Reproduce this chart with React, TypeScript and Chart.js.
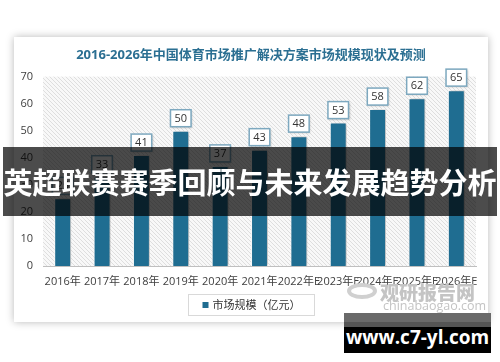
import React, { useEffect, useRef } from "react";
import { Chart, registerables } from "chart.js";

Chart.register(...registerables);

const categories = ["2016年", "2017年", "2018年", "2019年", "2020年", "2021年", "2022年E", "2023年E", "2024年E", "2025年E", "2026年E"];
const marketSize = [25, 33, 41, 50, 37, 43, 48, 53, 58, 62, 65];
const seriesName = "市场规模（亿元）";
const chartTitle = "2016-2026年中国体育市场推广解决方案市场规模现状及预测";
const yTicksMax = 70;
const yTicksStep = 10;
const bannerText = "英超联赛赛季回顾与未来发展趋势分析";
const siteText = "www.c7-yl.com";
const watermarkName = "观研报告网";
const watermarkUrl = "chinabaogao.com";

const FONT = '"Open Sans", "Noto Sans CJK SC", sans-serif';
const BAR = "#1f6d91";

function makeHatch(): CanvasPattern | string {
  const c = document.createElement("canvas");
  c.width = 4;
  c.height = 4;
  const g = c.getContext("2d");
  if (!g) return "#efefef";
  g.fillStyle = "#f8f8f8";
  g.fillRect(0, 0, 4, 4);
  g.strokeStyle = "#dedede";
  g.lineWidth = 1;
  g.beginPath();
  g.moveTo(0, 0);
  g.lineTo(4, 4);
  g.moveTo(-1, 3);
  g.lineTo(1, 5);
  g.moveTo(3, -1);
  g.lineTo(5, 1);
  g.stroke();
  const p = g.createPattern(c, "repeat");
  return p || "#efefef";
}

const bgPlugin = {
  id: "hatchBg",
  beforeDraw(chart: any) {
    const { ctx, chartArea } = chart;
    ctx.save();
    ctx.fillStyle = makeHatch();
    ctx.fillRect(chartArea.left, chartArea.top, chartArea.right - chartArea.left, chartArea.bottom - chartArea.top);
    ctx.restore();
  },
};

const shadowPlugin = {
  id: "barShadow",
  beforeDatasetsDraw(chart: any) {
    const ctx = chart.ctx;
    ctx.save();
    ctx.shadowColor = "rgba(0,0,0,0.28)";
    ctx.shadowBlur = 3;
    ctx.shadowOffsetX = 2;
    ctx.shadowOffsetY = 0;
  },
  afterDatasetsDraw(chart: any) {
    chart.ctx.restore();
  },
};

const labelPlugin = {
  id: "valueBoxes",
  afterDatasetsDraw(chart: any) {
    const ctx = chart.ctx;
    const meta = chart.getDatasetMeta(0);
    const data = chart.data.datasets[0].data;
    ctx.save();
    ctx.font = `11px ${FONT}`;
    ctx.textAlign = "center";
    ctx.textBaseline = "middle";
    meta.data.forEach((bar: any, i: number) => {
      const txt = String(data[i]);
      const w = Math.max(19, ctx.measureText(txt).width + 8);
      const h = 17;
      const x = bar.x - w / 2;
      const y = bar.y - 4 - h;
      ctx.shadowColor = "rgba(0,0,0,0.2)";
      ctx.shadowBlur = 2;
      ctx.shadowOffsetX = 1;
      ctx.shadowOffsetY = 1;
      ctx.fillStyle = "#ffffff";
      ctx.fillRect(x, y, w, h);
      ctx.shadowColor = "transparent";
      ctx.strokeStyle = "#7da8bf";
      ctx.lineWidth = 1.5;
      ctx.strokeRect(x, y, w, h);
      ctx.fillStyle = "#333333";
      ctx.fillText(txt, bar.x, y + h / 2 + 0.5);
    });
    ctx.restore();
  },
};

const legendPlugin = {
  id: "boxLegend",
  afterDraw(chart: any) {
    const ctx = chart.ctx;
    const label = chart.data.datasets[0].label;
    ctx.save();
    ctx.font = `11px ${FONT}`;
    const tw = ctx.measureText(label).width;
    const boxW = tw + 38;
    const boxH = 21;
    const cx = chart.width / 2;
    const x = Math.round(cx - boxW / 2) + 0.5;
    const y = 257.5;
    ctx.fillStyle = "#ffffff";
    ctx.fillRect(x, y, boxW, boxH);
    ctx.strokeStyle = "#d9d9d9";
    ctx.lineWidth = 1;
    ctx.strokeRect(x, y, boxW, boxH);
    ctx.fillStyle = BAR;
    ctx.fillRect(x + 14, y + boxH / 2 - 3, 6, 6);
    ctx.fillStyle = "#333333";
    ctx.textBaseline = "middle";
    ctx.textAlign = "left";
    ctx.fillText(label, x + 24, y + boxH / 2 + 0.5);
    ctx.restore();
  },
};

function BarChart() {
  const ref = useRef<HTMLCanvasElement | null>(null);
  useEffect(() => {
    if (!ref.current) return;
    const chart = new Chart(ref.current, {
      type: "bar",
      data: {
        labels: categories,
        datasets: [
          {
            label: seriesName,
            data: marketSize,
            backgroundColor: BAR,
            borderColor: "rgba(255,255,255,0.85)",
            borderWidth: 1,
            borderSkipped: "bottom",
            categoryPercentage: 1,
            barPercentage: 0.43,
            yAxisID: "y",
          },
        ],
      },
      options: {
        responsive: false,
        maintainAspectRatio: false,
        animation: false,
        devicePixelRatio: 1,
        layout: { padding: { left: 0, right: 0, top: 0, bottom: 34 } },
        plugins: {
          legend: { display: false },
          tooltip: { enabled: false },
          title: {
            display: true,
            text: chartTitle,
            color: "#2b6f92",
            font: { family: FONT, size: 13, weight: "bold" },
            padding: { top: 10, bottom: 14 },
          },
        },
        scales: {
          x: {
            grid: { display: false, drawTicks: false },
            border: { display: true, color: "#bfbfbf", width: 1 },
            ticks: {
              autoSkip: false,
              maxRotation: 0,
              minRotation: 0,
              padding: 9,
              color: "#404040",
              font: { family: FONT, size: 11 },
            },
            afterFit(scale: any) {
              scale.height = 22;
            },
          },
          y: {
            min: 0,
            max: yTicksMax,
            grid: { display: false, drawTicks: false },
            border: { display: false },
            ticks: {
              stepSize: yTicksStep,
              padding: 10,
              color: "#404040",
              font: { family: FONT, size: 11 },
            },
            afterFit(scale: any) {
              scale.width = 29;
            },
          },
          yRight: {
            position: "right",
            min: 0,
            max: yTicksMax,
            grid: { display: false, drawTicks: false },
            border: { display: false },
            ticks: { display: false },
            afterFit(scale: any) {
              scale.width = 12;
            },
          },
        },
      },
      plugins: [bgPlugin, shadowPlugin, labelPlugin, legendPlugin],
    });
    return () => chart.destroy();
  }, []);
  return <canvas ref={ref} width={474} height={285} style={{ display: "block" }} />;
}

export default function App() {
  return (
    <div style={{ position: "fixed", left: 0, top: 0, width: 500, height: 362, background: "#ffffff", overflow: "hidden" }}>
      <div
        style={{
          position: "absolute",
          left: 14,
          top: 37,
          width: 474,
          height: 285,
          background: "#ffffff",
          boxShadow: "0 0 8px rgba(0,0,0,0.28)",
        }}
      >
        <BarChart />
      </div>
      <div style={{ position: "absolute", left: 347, top: 283, width: 30, height: 16, border: "4px solid #d0d0d0", borderRadius: "50%", boxSizing: "border-box" }} />
      <div
        style={{
          position: "absolute",
          left: 380,
          top: 281,
          fontFamily: '"Noto Sans CJK SC", sans-serif',
          fontWeight: 900,
          fontSize: 19,
          lineHeight: "22px",
          color: "#c4c4c4",
          whiteSpace: "nowrap",
        }}
      >
        {watermarkName}
      </div>
      <div
        style={{
          position: "absolute",
          left: 383,
          top: 298,
          fontFamily: '"Open Sans", sans-serif',
          fontSize: 12.5,
          lineHeight: "16px",
          color: "#c4c4c4",
          whiteSpace: "nowrap",
        }}
      >
        {watermarkUrl}
      </div>
      <div
        style={{
          position: "absolute",
          left: 3,
          top: 147,
          width: 494,
          height: 69,
          background: "rgba(0,0,0,0.7)",
          color: "#ffffff",
          fontFamily: '"Noto Sans CJK SC", sans-serif',
          fontWeight: 700,
          fontSize: 29,
          lineHeight: "69px",
          textAlign: "center",
          whiteSpace: "nowrap",
          letterSpacing: 0,
        }}
      >
        {bannerText}
      </div>
      <div
        style={{
          position: "absolute",
          left: 344,
          top: 313,
          width: 147,
          height: 40,
          background: "linear-gradient(#6a6a6a 0px, #6a6a6a 9px, #555555 9px, #555555 14px, #000000 14px)",
          color: "#ffffff",
          fontFamily: '"Open Sans", sans-serif',
          fontWeight: 700,
          fontSize: 19,
          lineHeight: "48px",
          textAlign: "center",
          whiteSpace: "nowrap",
        }}
      >
        {siteText}
      </div>
    </div>
  );
}
